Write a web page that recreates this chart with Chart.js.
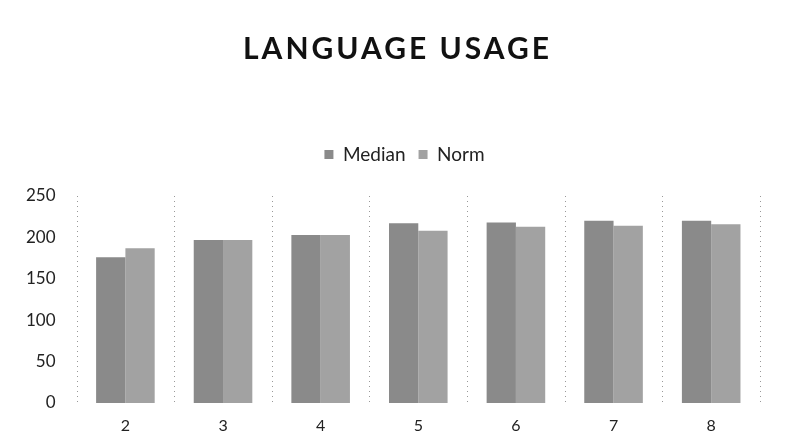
<!DOCTYPE html>
<html>
<head>
<meta charset="utf-8">
<script src="https://cdn.jsdelivr.net/npm/chart.js@4.4.1/dist/chart.umd.min.js"></script>
<style>
  html, body { margin: 0; padding: 0; background: #fff; }
  #wrap { width: 785px; height: 441px; position: relative; }
</style>
</head>
<body>
<div id="wrap"><canvas id="chart"></canvas></div>
<script>
// --- Data ---
const grades = ['2', '3', '4', '5', '6', '7', '8'];
const medianValues = [176, 197, 203, 217, 218, 220, 220];
const normValues = [187, 197, 203, 208, 213, 214, 216];
const yTicks = [0, 50, 100, 150, 200, 250];

const medianColor = '#8a8a8a';
const normColor = '#a2a2a2';
const fontFamily = 'Lato, "Open Sans", sans-serif';

// title is drawn by hand so it can get the wide letter spacing of the original
const spacedTitle = {
    id: 'spacedTitle',
    afterDraw(chart) {
        const tb = chart.titleBlock;
        const { ctx } = chart;
        ctx.save();
        ctx.font = `bold 30px ${fontFamily}`;
        ctx.letterSpacing = '3px';
        ctx.fillStyle = '#111';
        ctx.textAlign = 'center';
        ctx.textBaseline = 'middle';
        ctx.fillText('LANGUAGE USAGE', chart.width / 2 + 5, tb.top + 30 + 19);
        ctx.restore();
    }
};

// extra room under the legend, and the legend sits a bit right of centre
const legendTweak = {
    id: 'legendTweak',
    beforeInit(chart) {
        const fit = chart.legend.fit;
        chart.legend.fit = function () {
            fit.bind(chart.legend)();
            this.height += 22;
        };
    },
    afterLayout(chart) {
        chart.legend.left += 22;
        chart.legend.right += 22;
    }
};

// dotted vertical separators between the grade groups
const dottedGrid = {
    id: 'dottedGrid',
    beforeDatasetsDraw(chart) {
        const { ctx, chartArea, scales } = chart;
        const x = scales.x;
        ctx.save();
        ctx.strokeStyle = '#999';
        ctx.lineWidth = 1;
        ctx.setLineDash([1, 4]);
        const lines = [];
        for (let i = 1; i < grades.length; i++) {
            lines.push((x.getPixelForTick(i - 1) + x.getPixelForTick(i)) / 2);
        }
        lines.push(chartArea.left, chartArea.right);
        lines.forEach(p => {
            const px = Math.round(p) + 0.5;
            ctx.beginPath();
            ctx.moveTo(px, chartArea.top);
            ctx.lineTo(px, chartArea.bottom);
            ctx.stroke();
        });
        ctx.restore();
    }
};

const ctx = document.getElementById('chart').getContext('2d');
new Chart(ctx, {
    type: 'bar',
    data: {
        labels: grades,
        datasets: [
            { label: 'Median', data: medianValues, backgroundColor: medianColor, borderWidth: 0 },
            { label: 'Norm', data: normValues, backgroundColor: normColor, borderWidth: 0 }
        ]
    },
    options: {
        responsive: true,
        maintainAspectRatio: false,
        animation: false,
        layout: { padding: { left: 5, right: 25, top: 0, bottom: 0 } },
        datasets: { bar: { categoryPercentage: 0.6, barPercentage: 1.0 } },
        plugins: {
            title: {
                display: true,
                text: 'LANGUAGE USAGE',
                color: 'rgba(0,0,0,0)',
                font: { family: fontFamily, size: 30, weight: 'bold' },
                padding: { top: 30, bottom: 66 }
            },
            legend: {
                position: 'top',
                labels: {
                    color: '#222',
                    font: { family: fontFamily, size: 19 },
                    boxWidth: 9,
                    boxHeight: 9,
                    padding: 13
                }
            },
            tooltip: { enabled: false }
        },
        scales: {
            x: {
                offset: true,
                grid: { display: false, drawTicks: false },
                border: { display: false },
                afterFit: (scale) => { scale.height = 38; },
                ticks: {
                    color: '#222',
                    font: { family: fontFamily, size: 16 },
                    padding: 13
                }
            },
            y: {
                min: 0,
                max: 250,
                afterBuildTicks: (axis) => { axis.ticks = yTicks.map(v => ({ value: v })); },
                grid: { display: false, drawTicks: false },
                border: { display: false },
                ticks: {
                    color: '#222',
                    font: { family: fontFamily, size: 17 },
                    padding: 21
                }
            }
        }
    },
    plugins: [spacedTitle, legendTweak, dottedGrid]
});
</script>
</body>
</html>
